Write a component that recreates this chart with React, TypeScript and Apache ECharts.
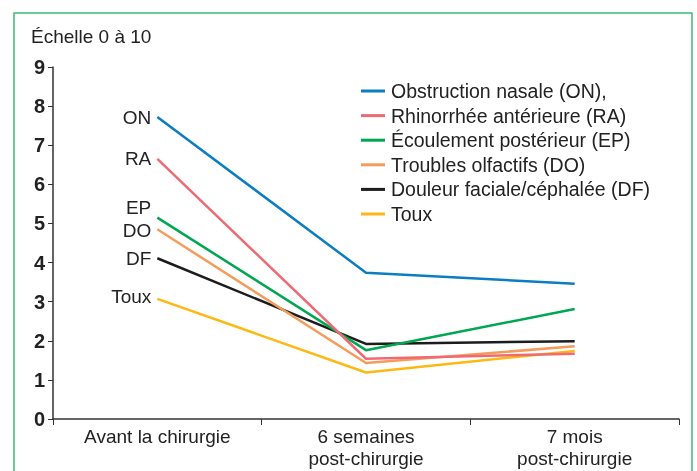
import React, { useEffect, useRef } from "react";
import * as echarts from "echarts";

const categories = ["Avant la chirurgie", "6 semaines\npost-chirurgie", "7 mois\npost-chirurgie"];
const yTicks = [0, 1, 2, 3, 4, 5, 6, 7, 8, 9];
const seriesNames = [
  "Obstruction nasale (ON),",
  "Rhinorrhée antérieure (RA)",
  "Écoulement postérieur (EP)",
  "Troubles olfactifs (DO)",
  "Douleur faciale/céphalée (DF)",
  "Toux",
];
const shortLabels = ["ON", "RA", "EP", "DO", "DF", "Toux"];
const onValues = [7.72, 3.74, 3.46];
const raValues = [6.65, 1.54, 1.67];
const epValues = [5.15, 1.76, 2.81];
const doValues = [4.85, 1.43, 1.86];
const dfValues = [4.11, 1.92, 1.99];
const touxValues = [3.07, 1.19, 1.74];
const allValues = [onValues, raValues, epValues, doValues, dfValues, touxValues];
const colors = ["#0b7dc1", "#ee6b74", "#00a651", "#f39c5b", "#1c1c1c", "#fdb913"];
const labelOffsets = [[0, 0], [0, 0], [0, -10], [0, 1], [0, 0], [0, -2]];

const FONT = "Liberation Sans";

export default function App() {
  const ref = useRef<HTMLDivElement>(null);
  useEffect(() => {
    const chart = echarts.init(ref.current!, null, { renderer: "svg" });
    chart.setOption({
      animation: false,
      textStyle: { fontFamily: FONT },
      graphic: [
        {
          type: "rect",
          shape: { x: 14, y: 13, width: 678, height: 470 },
          style: { fill: "none", stroke: "#3dbb7a", lineWidth: 1.5 },
          silent: true,
        },
        {
          type: "text",
          left: 31,
          top: 27,
          style: { text: "Échelle 0 à 10", font: `19px "${FONT}"`, fill: "#222" },
        },
      ],
      legend: {
        orient: "vertical",
        left: 356,
        top: 76,
        itemWidth: 24,
        itemHeight: 3,
        itemGap: 4.6,
        icon: "rect",
        data: seriesNames,
        textStyle: { fontSize: 19.5, color: "#222", fontFamily: FONT, padding: [0, 0, 0, 1] },
      },
      grid: { left: 53, right: 18, top: 67, bottom: 52 },
      xAxis: {
        type: "category",
        data: categories,
        boundaryGap: true,
        axisLine: { lineStyle: { color: "#333", width: 1.5 } },
        axisTick: { show: true, length: 6, lineStyle: { color: "#333" } },
        axisLabel: { fontSize: 19, color: "#222", lineHeight: 21.5, margin: 7, fontFamily: FONT },
      },
      yAxis: {
        type: "value",
        min: yTicks[0],
        max: yTicks[yTicks.length - 1],
        interval: 1,
        splitLine: { show: false },
        axisLine: { show: true, lineStyle: { color: "#333", width: 1.5 } },
        axisTick: { show: true, length: 5, lineStyle: { color: "#333" } },
        axisLabel: { fontSize: 20, fontWeight: "bold", color: "#222", margin: 8, fontFamily: FONT },
      },
      series: allValues.map((vals, i) => ({
        type: "line",
        name: seriesNames[i],
        data: vals.map((v, j) =>
          j === 0
            ? {
                value: v,
                label: {
                  show: true,
                  position: "left",
                  distance: 6,
                  offset: labelOffsets[i],
                  formatter: shortLabels[i],
                  fontSize: 19,
                  color: "#222",
                  fontFamily: FONT,
                },
              }
            : v
        ),
        symbol: "circle",
        symbolSize: 0.1,
        showSymbol: true,
        lineStyle: { color: colors[i], width: 2.5 },
        itemStyle: { color: colors[i] },
        z: 10 - i,
      })),
    });
    return () => chart.dispose();
  }, []);
  return <div ref={ref} style={{ position: "fixed", left: 0, top: 0, width: 697, height: 471 }} />;
}
